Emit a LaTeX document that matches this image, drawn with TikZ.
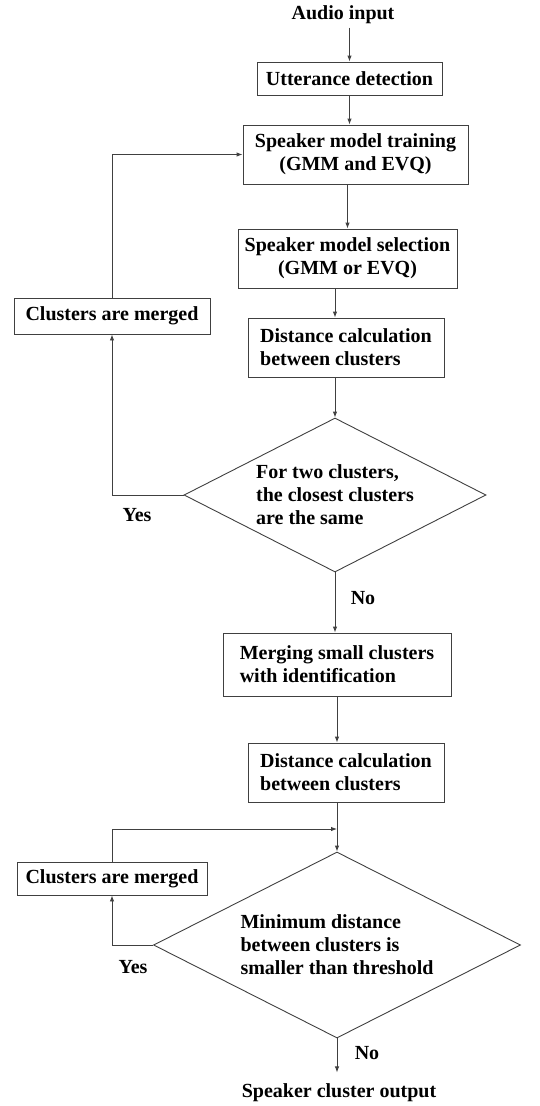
\documentclass[tikz,border=0pt]{standalone}
\usepackage{fontspec}
\setmainfont{Liberation Serif}
\usetikzlibrary{arrows.meta,positioning,shapes.geometric,calc}

\begin{document}
\begin{tikzpicture}[x=1pt, y=-1pt,
    every node/.style={font=\bfseries\fontsize{20}{23}\selectfont},
    proc/.style={draw=black!75, line width=0.9pt, inner sep=4pt},
    decide/.style={draw=black!75, line width=0.9pt, diamond, inner sep=0pt, align=left},
    arr/.style={draw=black!75, line width=0.9pt, -{Latex[length=6pt,width=4.5pt]}},
    link/.style={draw=black!75, line width=0.9pt}]
    \useasboundingbox (0,0) rectangle (540,1106);

    % main column
    \node (audio) at (343,15) {Audio input};
    \node[proc, minimum width=185pt, minimum height=33pt] (utt) at (349.5,78.5) {Utterance detection};
    \node[proc, align=center, minimum width=225pt, minimum height=59pt] (train) at (355.5,154.5) {Speaker model training\\ (GMM and EVQ)};
    \node[proc, align=center, minimum width=219pt, minimum height=59pt] (sel) at (347.5,258.5) {Speaker model selection\\ (GMM or EVQ)};
    \node[proc, align=left, minimum width=196pt, minimum height=59pt] (dist1) at (346,347.5) {Distance calculation\\between clusters};
    \node[decide, aspect=1.96, minimum width=302pt, minimum height=154pt] (dec1) at (335,495) {For two clusters,\\the closest clusters\\are the same};
    \node[proc, align=left, minimum width=228pt, minimum height=63pt] (merg) at (337,664.5) {Merging small clusters\\with identification};
    \node[proc, align=left, minimum width=196pt, minimum height=59pt] (dist2) at (346,772.5) {Distance calculation\\between clusters};
    \node[decide, aspect=1.97, minimum width=367pt, minimum height=186pt] (dec2) at (337,945) {Minimum distance\\between clusters is\\smaller than threshold};
    \node (out) at (339,1093) {Speaker cluster output};

    % loop boxes
    \node[proc, minimum width=196pt, minimum height=36pt] (merge1) at (112,316) {Clusters are merged};
    \node[proc, minimum width=190pt, minimum height=33pt] (merge2) at (112,878.5) {Clusters are merged};

    \node (yes1) at (137,515) {Yes};
    \node (no1) at (363,598) {No};
    \node (yes2) at (133,967) {Yes};
    \node (no2) at (367,1053) {No};

    \coordinate (join) at (337,829);

    \draw[arr] (audio.south -| utt.north) -- (utt.north);
    \draw[arr] (utt.south) -- (utt.south |- train.north);
    \draw[arr] (sel.north |- train.south) -- (sel.north);
    \draw[arr] (sel.south -| dec1.north) -- (dist1.north -| dec1.north);
    \draw[arr] (dist1.south -| dec1.north) -- (dec1.north);
    \draw[arr] (dec1.south) -- (merg.north -| dec1.south);
    \draw[arr] (merg.south -| dec2.north) -- (dist2.north -| dec2.north);
    \draw[link] (dist2.south -| join) -- (join);
    \draw[arr] (join) -- (dec2.north);
    \draw[arr] (dec2.south) -- ++(0,34);

    \draw[arr] (dec1.west) -| (merge1.south);
    \draw[arr] (merge1.north) |- (train.west);
    \draw[arr] (dec2.west) -| (merge2.south);
    \draw[arr] (merge2.north) |- (join);
\end{tikzpicture}
\end{document}
